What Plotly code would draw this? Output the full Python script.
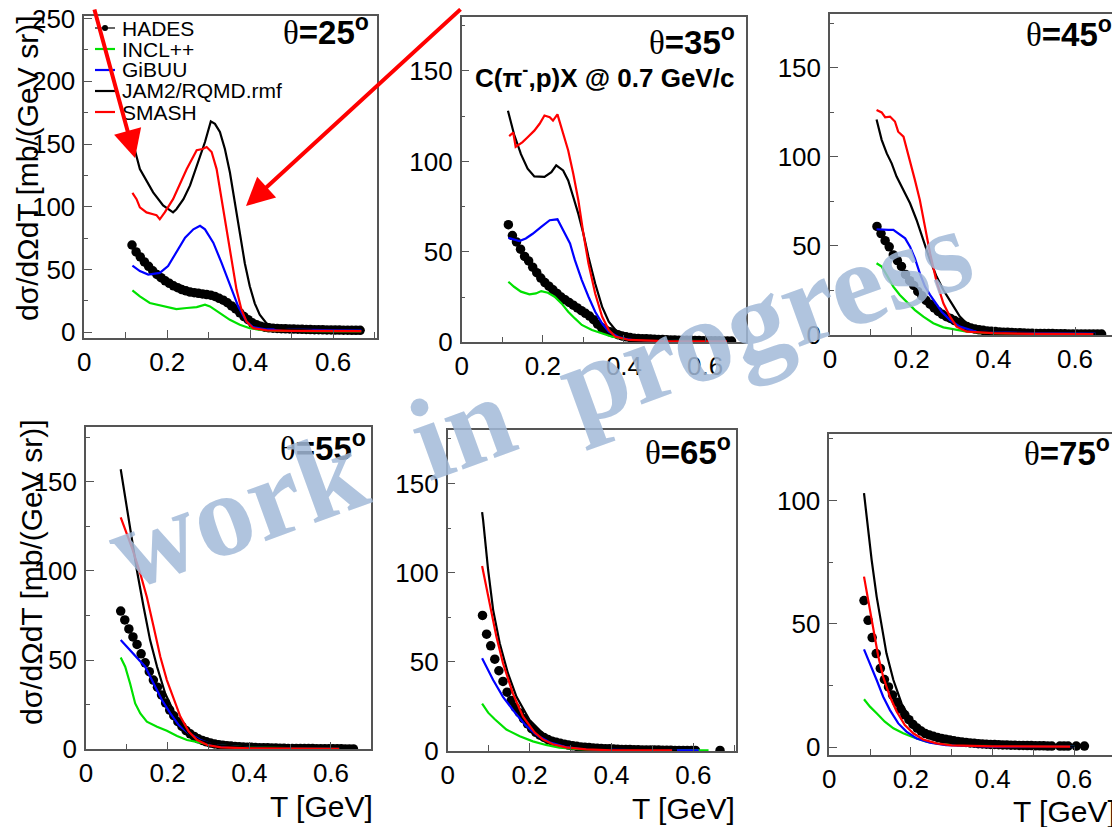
import plotly.graph_objects as go

# the page body adds an 8 px margin, so the figure is 8 px smaller and every
# reference pixel position is shifted by OFF
W, H, OFF = 1112, 819, 8
FONT = "Liberation Sans, Arial, Helvetica, sans-serif"
SERIF = "Liberation Serif, Times New Roman, serif"

# ---------------- data ----------------
ANGLES = [25, 35, 45, 55, 65, 75]
X_TICKS = [0, 0.2, 0.4, 0.6]
X_TICKTEXT = ["0", "0.2", "0.4", "0.6"]
Y_TICKS = [[0, 50, 100, 150, 200, 250], [0, 50, 100, 150], [0, 50, 100, 150],
           [0, 50, 100, 150], [0, 50, 100, 150], [0, 50, 100]]
MODEL_NAMES = ["HADES", "INCL++", "GiBUU", "JAM2/RQMD.rmf", "SMASH"]

# HADES bin centres (GeV)
T_TOP = [0.115, 0.125, 0.135, 0.145, 0.155, 0.165, 0.175, 0.185, 0.195, 0.205,
         0.215, 0.225, 0.235, 0.245, 0.255, 0.265, 0.275, 0.285, 0.295, 0.305,
         0.315, 0.325, 0.335, 0.345, 0.355, 0.365, 0.375, 0.385, 0.395, 0.405,
         0.415, 0.425, 0.435, 0.445, 0.455, 0.465, 0.475, 0.485, 0.495, 0.505,
         0.515, 0.525, 0.535, 0.545, 0.555, 0.565, 0.575, 0.585, 0.595, 0.605,
         0.615, 0.625, 0.635, 0.645, 0.655, 0.665]
T_BOT = [0.085, 0.095, 0.105,
         0.115, 0.125, 0.135, 0.145, 0.155, 0.165, 0.175, 0.185, 0.195, 0.205,
         0.215, 0.225, 0.235, 0.245, 0.255, 0.265, 0.275, 0.285, 0.295, 0.305,
         0.315, 0.325, 0.335, 0.345, 0.355, 0.365, 0.375, 0.385, 0.395, 0.405,
         0.415, 0.425, 0.435, 0.445, 0.455, 0.465, 0.475, 0.485, 0.495, 0.505,
         0.515, 0.525, 0.535, 0.545, 0.555, 0.565, 0.575, 0.585, 0.595, 0.605,
         0.615, 0.625, 0.635, 0.645, 0.655, 0.665]

HADES_25 = [69.5, 64, 60, 56, 52.5, 49, 46, 43.5, 41, 39,
            37, 35.5, 34, 33, 32, 31.5, 31, 30.5, 30, 29.5,
            28.5, 27, 25.5, 23.5, 21, 18.5, 15.5, 12.5, 10, 7.5,
            6, 4.8, 4, 3.5, 3.2, 3, 2.8, 2.7, 2.6, 2.5,
            2.4, 2.3, 2.2, 2.1, 2, 2, 1.9, 1.8, 1.8, 1.7,
            1.7, 1.6, 1.6, 1.5, 1.5, 1.5]
HADES_35 = [65, 59, 55.5, 51.5, 47.5, 45, 41.5, 38.5, 35.5, 33,
            31, 29, 27, 25, 23.5, 22, 20.5, 19, 17.5, 16,
            14.5, 12.5, 10, 8, 6.7, 5.8, 5, 4.2, 3.5, 3,
            2.6, 2.3, 2.1, 2, 1.9, 1.8, 1.7, 1.6, 1.5, 1.4,
            1.3, 1.3, 1.2, 1.2, 1.1, 1.1, 1, 1, 0.9, 0.9,
            0.8, 0.8, 0.8, 0.7, 0.7, 0.7]
HADES_45 = [61, 57, 53, 49.5, 45, 41.8, 38.5, 34, 30.5, 27.8,
            24.5, 22, 19.5, 17.3, 15.2, 13.2, 11.6, 10.3, 9.3, 8.1,
            7, 5.8, 4.8, 3.9, 3.3, 2.9, 2.6, 2.3, 2.1, 1.9,
            1.7, 1.6, 1.5, 1.4, 1.3, 1.2, 1.1, 1.0, 1.0, 0.9,
            0.9, 0.8, 0.8, 0.8, 0.7, 0.7, 0.7, 0.6, 0.6, 0.6,
            0.6, 0.5, 0.5, 0.5, 0.5, 0.5]
HADES_55 = [77.5, 72.5, 67.5, 63, 58.8, 53.5, 48.5, 43.5, 38.8, 34.8,
            30.5, 26, 22, 18.8, 15.5, 12.8, 10.5, 8.7, 7.2, 5.9,
            5, 4.2, 3.5, 3, 2.6, 2.3, 2, 1.8, 1.6, 1.4,
            1.3, 1.2, 1.1, 1, 0.9, 0.8, 0.8, 0.7, 0.7, 0.6,
            0.6, 0.5, 0.5, 0.5, 0.4, 0.4, 0.4, 0.4, 0.3, 0.3,
            0.3, 0.3, 0.3, 0.3, 0.3, 0.2, 0.2, 0.2, None]
HADES_65 = [76, 65.5, 59, 51.5, 45, 39, 33, 28.3, 24.5, 21.5,
            18.2, 15.2, 12.5, 10.5, 8.9, 7.6, 6.4, 5.5, 4.9, 4.3,
            3.8, 3.3, 2.9, 2.6, 2.3, 2.1, 1.9, 1.7, 1.5, 1.4,
            1.3, 1.2, 1.1, 1, 0.9, 0.8, 0.8, 0.7, 0.7, 0.6,
            0.6, 0.5, 0.5, 0.5, 0.4, 0.4, 0.4, 0.3, 0.3, 0.3,
            0.3, 0.3, 0.3, None, None, None, None, None, 0.3]
HADES_75 = [59.5, 51.5, 44.5, 38, 32, 27.5, 24.5, 21.2, 18.3, 15.5,
            13.2, 11.2, 9.3, 7.8, 6.6, 5.6, 5, 4.5, 4, 3.6,
            3.3, 3, 2.7, 2.4, 2.2, 2, 1.8, 1.7, 1.5, 1.4,
            1.3, 1.2, 1.2, 1.1, 1, 1, 0.9, 0.9, 0.8, 0.8,
            0.7, 0.7, 0.6, 0.6, 0.6, 0.5, 0.5, None, 0.5, 0.5,
            0.5, None, 0.5, None, 0.5, None, None, None, None]

# model curves: theta = 25
INCL_25_T = [0.116, 0.134, 0.158, 0.19, 0.222, 0.247, 0.271, 0.291, 0.303, 0.327,
             0.351, 0.375, 0.399, 0.423, 0.46, 0.55, 0.668]
INCL_25 = [33.4, 28.6, 23.3, 21, 18.4, 19.3, 20, 22, 20.6, 15.2,
           9.9, 5.9, 3.2, 1.9, 1.2, 0.8, 0.6]
GIBUU_25_T = [0.116, 0.134, 0.154, 0.182, 0.202, 0.222, 0.243, 0.263, 0.279, 0.291,
              0.311, 0.331, 0.351, 0.371, 0.391, 0.407, 0.44, 0.5, 0.6, 0.668]
GIBUU_25 = [53, 48.7, 46, 47.3, 52.7, 63.4, 75.4, 82, 84.8, 82,
            71.4, 55.3, 38, 20.6, 8.6, 4, 2.2, 1.8, 1.3, 1.2]
JAM_25_T = [0.116, 0.122, 0.134, 0.15, 0.166, 0.19, 0.206, 0.214, 0.222, 0.239,
            0.255, 0.275, 0.291, 0.305, 0.315, 0.327, 0.339, 0.351, 0.363, 0.375,
            0.387, 0.399, 0.411, 0.423, 0.439, 0.463, 0.496, 0.55, 0.6, 0.668]
JAM_25 = [150, 145, 130, 121, 111.5, 101, 97, 95.5, 98, 106,
          117, 135.5, 151.6, 168, 166, 159.6, 146, 127.5, 103.5, 79.4,
          55, 36.6, 23, 14, 7.2, 3.2, 2, 1.2, 0.8, 0.8]
SMASH_25_T = [0.116, 0.126, 0.134, 0.15, 0.166, 0.174, 0.182, 0.194, 0.214, 0.23,
              0.247, 0.271, 0.285, 0.295, 0.307, 0.319, 0.331, 0.343, 0.355, 0.367,
              0.379, 0.391, 0.407, 0.44, 0.5, 0.6, 0.668]
SMASH_25 = [111, 106, 99.5, 95.5, 94, 93.3, 90, 95.5, 106, 117,
            130, 145, 146, 147.6, 143.6, 130, 106, 79.4, 55, 34,
            18, 8.6, 3.2, 1.5, 1, 0.8, 0.8]

# theta = 35
INCL_35_T = [0.115, 0.129, 0.146, 0.167, 0.183, 0.196, 0.2125, 0.229, 0.246, 0.2625,
             0.279, 0.296, 0.321, 0.346, 0.371, 0.396, 0.45, 0.55, 0.65]
INCL_35 = [33.5, 30.7, 28, 26.5, 27, 28.3, 27.4, 25.2, 21.5, 16.9,
           13.2, 9.6, 6.8, 5, 3.1, 2.2, 1.2, 0.8, 0.5]
GIBUU_35_T = [0.115, 0.129, 0.142, 0.158, 0.175, 0.196, 0.217, 0.236, 0.25, 0.267,
              0.279, 0.296, 0.3125, 0.329, 0.346, 0.3625, 0.3875, 0.43, 0.55, 0.65]
GIBUU_35 = [57.7, 56.8, 56, 57.4, 60, 63.8, 67.5, 68, 62, 54.6,
            45.4, 34.4, 25.2, 16.9, 10.5, 5.9, 2.8, 1.3, 0.6, 0.5]
JAM_35_T = [0.114, 0.129, 0.146, 0.1625, 0.179, 0.204, 0.221, 0.233, 0.25, 0.2625,
            0.275, 0.2875, 0.3, 0.3125, 0.329, 0.346, 0.3625, 0.379, 0.404, 0.44,
            0.54, 0.65]
JAM_35 = [128, 115, 104, 96, 91.7, 91.4, 94, 97.8, 95, 89.5,
          80.3, 71, 60, 47.2, 32.5, 19.7, 11.4, 6.8, 3.1, 1.7,
          0.9, 0.5]
SMASH_35_T = [0.117, 0.127, 0.133, 0.15, 0.1625, 0.179, 0.192, 0.204, 0.217, 0.225,
              0.236, 0.25, 0.2625, 0.275, 0.2875, 0.3, 0.3125, 0.329, 0.346, 0.3625,
              0.379, 0.4125, 0.5, 0.654]
SMASH_35 = [114, 116, 108, 110.7, 113.4, 117, 120.8, 125.4, 124.4, 122.6,
            126, 115, 106, 93.2, 78.5, 60, 43.6, 27, 14.2, 6.8,
            3.1, 1.3, 0.6, 0.5]

# theta = 45
INCL_45_T = [0.114, 0.1265, 0.139, 0.155, 0.171, 0.188, 0.208, 0.2286, 0.253, 0.2776,
             0.31, 0.335, 0.4, 0.5, 0.65]
INCL_45 = [40.3, 38.4, 33.7, 27.2, 22.5, 18.7, 14, 10.3, 6.6, 4.3,
           2.8, 1.9, 1, 0.7, 0.5]
GIBUU_45_T = [0.114, 0.1306, 0.143, 0.155, 0.167, 0.184, 0.196, 0.208, 0.22, 0.2327,
              0.245, 0.257, 0.2735, 0.294, 0.318, 0.351, 0.4, 0.5, 0.65]
GIBUU_45 = [59.4, 59, 59, 59, 57, 54.3, 49.6, 43, 34.6, 27.2,
            22.5, 18.7, 13.1, 8.4, 4.7, 2.4, 1.5, 1, 0.8]
JAM_45_T = [0.114, 0.1265, 0.139, 0.151, 0.163, 0.18, 0.196, 0.212, 0.2286, 0.245,
            0.261, 0.2776, 0.298, 0.318, 0.339, 0.367, 0.4, 0.5, 0.65]
JAM_45 = [121, 109.6, 102, 96.4, 89, 81.5, 74, 64.6, 53.4, 42,
          32.8, 25.3, 17.8, 10.3, 5.6, 2.2, 1.3, 0.8, 0.6]
SMASH_45_T = [0.114, 0.1265, 0.135, 0.147, 0.159, 0.167, 0.18, 0.196, 0.208, 0.22,
              0.2327, 0.245, 0.261, 0.2776, 0.294, 0.31, 0.335, 0.4, 0.5, 0.645]
SMASH_45 = [126.4, 125, 122.3, 122.7, 119.9, 114.2, 111.4, 98.3, 87, 75.8,
            60.9, 45.9, 30, 17.8, 10.3, 4.7, 1.9, 1, 0.6, 0.5]

# theta = 55
INCL_55_T = [0.085, 0.096, 0.108, 0.1205, 0.133, 0.149, 0.174, 0.198, 0.223, 0.2475,
             0.28, 0.313, 0.4, 0.5, 0.62]
INCL_55 = [51.5, 46.3, 36.9, 25.7, 20.1, 15.5, 12.7, 10.4, 7.5, 5.2,
           3.7, 2.4, 1, 0.5, 0.3]
GIBUU_55_T = [0.085, 0.104, 0.1246, 0.145, 0.1656, 0.186, 0.2066, 0.227, 0.2516, 0.28,
              0.313, 0.4, 0.5, 0.62]
GIBUU_55 = [61.2, 56.5, 51.9, 46.3, 36.9, 27.6, 20.1, 13.6, 9, 5.2,
            2.4, 0.8, 0.4, 0.3]
JAM_55_T = [0.085, 0.1, 0.112, 0.1246, 0.141, 0.157, 0.174, 0.194, 0.215, 0.235,
            0.256, 0.28, 0.32, 0.4, 0.5, 0.62]
JAM_55 = [157, 135.8, 117, 100.4, 79.9, 61.2, 46.3, 31.3, 21, 13.6,
          8, 4.7, 2.4, 1, 0.6, 0.4]
SMASH_55_T = [0.085, 0.112, 0.133, 0.149, 0.1656, 0.182, 0.198, 0.215, 0.231, 0.2516,
              0.272, 0.297, 0.33, 0.4, 0.5, 0.62]
SMASH_55 = [130, 113.4, 98.5, 85.4, 68.7, 51.9, 38.8, 27.6, 18.3, 9.9,
            5.2, 2.4, 1.1, 0.5, 0.3, 0.3]

# theta = 65
INCL_65_T = [0.084, 0.0988, 0.115, 0.1433, 0.176, 0.208, 0.24, 0.273, 0.32, 0.4,
             0.5, 0.637]
INCL_65 = [26.5, 21.5, 17.8, 12, 8.3, 5.4, 3.4, 1.9, 1, 0.5,
           0.3, 0.3]
GIBUU_65_T = [0.084, 0.111, 0.135, 0.166, 0.19, 0.22, 0.25, 0.29, 0.35, 0.45,
              0.613]
GIBUU_65 = [52, 39.8, 30.4, 21, 14.5, 8.5, 4.8, 2.2, 1, 0.5,
            0.3]
JAM_65_T = [0.084, 0.0865, 0.0987, 0.111, 0.127, 0.147, 0.168, 0.2, 0.232, 0.257,
            0.289, 0.338, 0.4, 0.5, 0.56]
JAM_65 = [134, 129.5, 101.5, 79, 60.4, 43.6, 30.4, 17.4, 10, 6.2,
          3.6, 1.9, 0.9, 0.5, 0.4]
SMASH_65_T = [0.084, 0.1028, 0.119, 0.135, 0.159, 0.184, 0.212, 0.232, 0.257, 0.289,
              0.338, 0.4, 0.548]
SMASH_65 = [103.7, 82.8, 64, 49.2, 32.3, 19.2, 10.5, 6.5, 3.8, 2,
            0.9, 0.4, 0.3]

# theta = 75
INCL_75_T = [0.085, 0.0996, 0.116, 0.136, 0.157, 0.181, 0.2057, 0.238, 0.27, 0.33,
             0.4, 0.5, 0.6]
INCL_75 = [19.5, 16.5, 13.8, 10.4, 7.7, 5.7, 4.1, 2.3, 1.4, 0.8,
           0.5, 0.3, 0.3]
GIBUU_75_T = [0.085, 0.0996, 0.116, 0.132, 0.1486, 0.169, 0.189, 0.214, 0.2465, 0.286,
              0.4, 0.5, 0.6]
GIBUU_75 = [39.7, 34, 27.3, 20.5, 15.1, 9.7, 6.4, 3.6, 1.9, 0.9,
            0.3, 0.3, 0.3]
JAM_75_T = [0.085, 0.093, 0.1037, 0.116, 0.128, 0.14, 0.157, 0.177, 0.1976, 0.222,
            0.2465, 0.279, 0.32, 0.4, 0.5, 0.6]
JAM_75 = [103, 90.8, 76, 61.1, 48.9, 38.1, 27.3, 17.8, 11.8, 7,
          4.3, 2.3, 1.2, 0.6, 0.4, 0.3]
SMASH_75_T = [0.085, 0.0955, 0.1078, 0.12, 0.132, 0.1486, 0.165, 0.185, 0.2057, 0.23,
              0.263, 0.3, 0.4, 0.5, 0.59]
SMASH_75 = [69.2, 59.7, 47.6, 36.8, 28.6, 20.5, 14.5, 9, 5.7, 3.2,
            1.6, 0.8, 0.4, 0.3, 0.3]

PANELS = [
    ((T_TOP, HADES_25), (INCL_25_T, INCL_25), (GIBUU_25_T, GIBUU_25), (JAM_25_T, JAM_25), (SMASH_25_T, SMASH_25)),
    ((T_TOP, HADES_35), (INCL_35_T, INCL_35), (GIBUU_35_T, GIBUU_35), (JAM_35_T, JAM_35), (SMASH_35_T, SMASH_35)),
    ((T_TOP, HADES_45), (INCL_45_T, INCL_45), (GIBUU_45_T, GIBUU_45), (JAM_45_T, JAM_45), (SMASH_45_T, SMASH_45)),
    ((T_BOT, HADES_55), (INCL_55_T, INCL_55), (GIBUU_55_T, GIBUU_55), (JAM_55_T, JAM_55), (SMASH_55_T, SMASH_55)),
    ((T_BOT, HADES_65), (INCL_65_T, INCL_65), (GIBUU_65_T, GIBUU_65), (JAM_65_T, JAM_65), (SMASH_65_T, SMASH_65)),
    ((T_BOT, HADES_75), (INCL_75_T, INCL_75), (GIBUU_75_T, GIBUU_75), (JAM_75_T, JAM_75), (SMASH_75_T, SMASH_75)),
]

# ---------------- layout ----------------
COLORS = ["black", "rgb(0,225,0)", "#0000ff", "black", "#ff0000"]
FRAME = "#555555"

# pad frames in screen pixels: left, right, top, bottom
FRAMES = [(84.3, 376.7, 16, 338), (461.7, 745.7, 16.7, 342.3), (830, 1118.3, 14, 335),
          (86, 371, 427.3, 749.3), (447.7, 736, 430, 751), (829.3, 1118.3, 434, 755)]
X_RANGES = [[0, 0.705], [0, 0.70], [0, 0.706], [0, 0.698], [0, 0.704], [0, 0.708]]
Y_RANGES = [[-4.6, 252], [0, 180], [0, 180.3], [0, 180.5], [0, 180], [-3.1, 127]]


def px(x):
    return (x - OFF) / W


def py(y):
    return 1 - (y - OFF) / H


fig = go.Figure()
layout = {}
annotations = []
shapes = []

for i, panel in enumerate(PANELS):
    n = i + 1
    sfx = "" if n == 1 else str(n)
    xa, ya = "x" + sfx, "y" + sfx
    l, r, t, b = FRAMES[i]

    hx, hy = panel[0]
    fig.add_trace(go.Scatter(x=hx, y=hy, mode="markers", xaxis=xa, yaxis=ya,
                             marker=dict(color="black", size=9.5), showlegend=False))
    for k in range(1, 5):
        mx, my = panel[k]
        fig.add_trace(go.Scatter(x=mx, y=my, mode="lines", xaxis=xa, yaxis=ya,
                                 line=dict(color=COLORS[k], width=2.2), showlegend=False))

    layout["xaxis" + sfx] = dict(
        domain=[px(l), px(r)], anchor=ya, range=X_RANGES[i], automargin=False,
        showline=True, mirror=True, linecolor=FRAME, linewidth=1.5,
        ticks="inside", ticklen=8, tickcolor=FRAME, tickwidth=1,
        tickvals=X_TICKS, ticktext=X_TICKTEXT, ticklabelstandoff=0,
        ticklabeloverflow="allow",
        minor=dict(tick0=0, dtick=0.1, ticks="inside", ticklen=6, tickcolor=FRAME),
        tickfont=dict(family=FONT, size=26, color="black"),
        showgrid=False, zeroline=False)
    layout["yaxis" + sfx] = dict(
        domain=[py(b), py(t)], anchor=xa, range=Y_RANGES[i], automargin=False,
        showline=True, mirror=True, linecolor=FRAME, linewidth=1.5,
        ticks="inside", ticklen=8, tickcolor=FRAME, tickwidth=1,
        tickvals=Y_TICKS[i], ticklabelstandoff=2,
        ticklabeloverflow="allow",
        minor=dict(tick0=0, dtick=25, ticks="inside", ticklen=4, tickcolor=FRAME),
        tickfont=dict(family=FONT, size=26, color="black"),
        showgrid=False, zeroline=False)

# theta labels (right edge, vertical centre)
THETA_POS = [(371, 30), (737, 40), (1114, 32), (368, 446), (733, 450), (1112, 451)]
for ang, (x, y) in zip(ANGLES, THETA_POS):
    annotations.append(dict(
        x=px(x), y=py(y), xref="paper", yref="paper", xanchor="right", yanchor="middle",
        showarrow=False, font=dict(family=FONT, size=33, color="black"),
        text=f'<span style="font-family:{SERIF}">θ</span><b>={ang}<sup>o</sup></b>'))

annotations.append(dict(
    x=px(736), y=py(76), xref="paper", yref="paper", xanchor="right", yanchor="middle",
    showarrow=False, font=dict(family=FONT, size=26, color="black"),
    text="<b>C(π<sup>-</sup>,p)X @ 0.7 GeV/c</b>"))

# axis titles
for (x, y) in [(28, 169), (31, 573)]:
    annotations.append(dict(
        x=px(x), y=py(y), xref="paper", yref="paper", xanchor="center", yanchor="middle",
        textangle=-90, showarrow=False, font=dict(family=FONT, size=30, color="black"),
        text="dσ/dΩdT [mb/(GeV sr)]"))
for (x, y) in [(375, 806), (737, 808), (1118, 811)]:
    annotations.append(dict(
        x=px(x), y=py(y), xref="paper", yref="paper", xanchor="right", yanchor="middle",
        showarrow=False, font=dict(family=FONT, size=30, color="black"),
        text="T [GeV]"))

# legend (first pad)
LEG_Y = [28, 49, 70, 91, 112]
for k, (name, y) in enumerate(zip(MODEL_NAMES, LEG_Y)):
    annotations.append(dict(
        x=px(120), y=py(y), xref="paper", yref="paper", xanchor="left", yanchor="middle",
        showarrow=False, font=dict(family=FONT, size=21, color="black"), text=name))
    shapes.append(dict(type="line", xref="paper", yref="paper",
                       x0=px(95), x1=px(115), y0=py(y), y1=py(y),
                       line=dict(color=COLORS[k], width=1.2 if k == 0 else 2.2)))
shapes.append(dict(type="circle", xref="paper", yref="paper",
                   x0=px(102), x1=px(108), y0=py(31), y1=py(25),
                   fillcolor="black", line=dict(color="black", width=0)))

# watermark
annotations.append(dict(
    x=px(539), y=py(399), xref="paper", yref="paper", xanchor="center", yanchor="middle",
    textangle=-20, showarrow=False,
    font=dict(family=SERIF, size=118, color="rgba(162,186,216,0.85)", weight="bold"),
    text="work\u00a0\u00a0in\u00a0\u00a0progress"))

# red arrows
for (tx, ty, ax, ay) in [(135, 158, -41, -164), (246, 206, 216, -212)]:
    annotations.append(dict(
        x=px(tx), y=py(ty), xref="paper", yref="paper", text="", showarrow=True,
        ax=ax, ay=ay, arrowcolor="#ff0000", arrowwidth=4, arrowhead=2, arrowsize=1.4,
        standoff=0, startstandoff=0))

fig.update_layout(
    width=W, height=H, margin=dict(l=0, r=0, t=0, b=0),
    paper_bgcolor="white", plot_bgcolor="white",
    annotations=annotations, shapes=shapes, showlegend=False,
    **layout)

fig.write_html("out.html")
